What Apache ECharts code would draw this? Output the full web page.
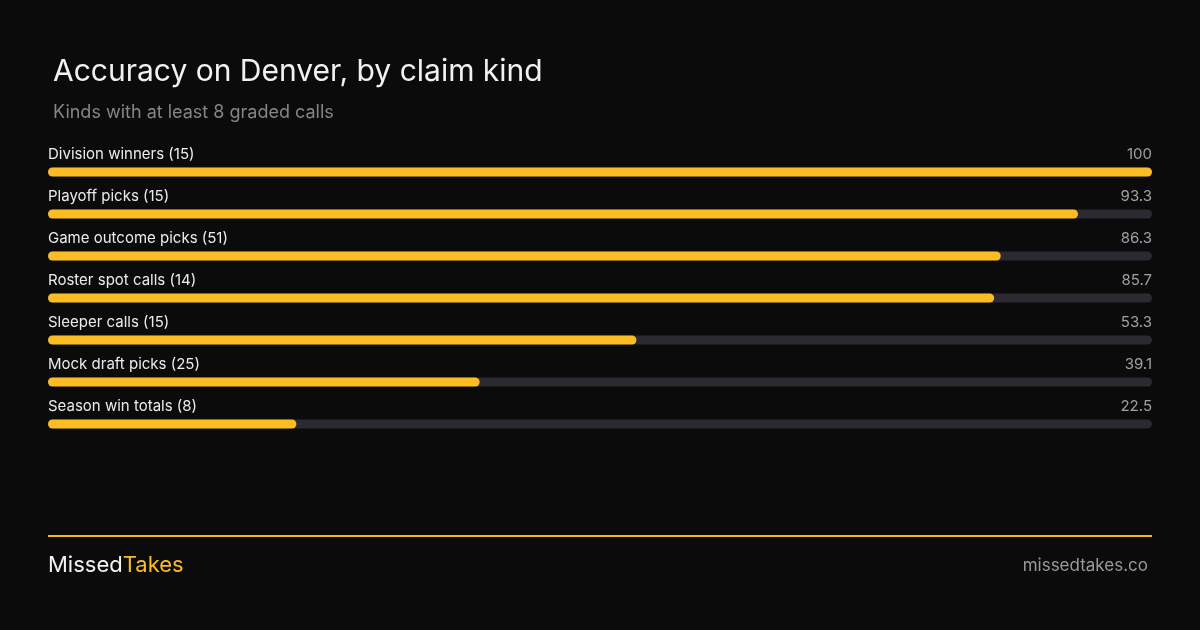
<!DOCTYPE html>
<html lang="en">
<head>
    <meta charset="UTF-8">
    <title>Accuracy on Denver</title>
    <script src="https://cdn.jsdelivr.net/npm/echarts@6/dist/echarts.min.js"></script>
    <style>
        html, body { margin: 0; padding: 0; background: #0b0b0b; }
        #main { width: 1200px; height: 630px; }
    </style>
</head>
<body>
<div id="main"></div>
<script type="text/javascript">
    var kinds = ['Division winners (15)', 'Playoff picks (15)', 'Game outcome picks (51)', 'Roster spot calls (14)',
                 'Sleeper calls (15)', 'Mock draft picks (25)', 'Season win totals (8)'];
    var accuracy = [100, 93.3, 86.3, 85.7, 53.3, 39.1, 22.5];
    var fullTrack = kinds.map(function () { return 100; });

    var font = 'Inter, "Noto Sans", sans-serif';
    var myChart = echarts.init(document.getElementById('main'));

    var option = {
        backgroundColor: '#0b0b0b',
        animation: false,
        title: [
            { text: 'Accuracy on Denver, by claim kind', left: 48, top: 52,
              textStyle: { color: '#f2f2f2', fontSize: 30, fontWeight: 400, fontFamily: font } },
            { text: 'Kinds with at least 8 graded calls', left: 48, top: 99,
              textStyle: { color: '#85858b', fontSize: 18, fontWeight: 400, fontFamily: font } }
        ],
        grid: { left: 48, right: 48, top: 151, height: 294 },
        xAxis: { type: 'value', min: 0, max: 100, show: false },
        yAxis: { type: 'category', data: kinds, inverse: true, show: false },
        series: [
            {
                type: 'bar', data: fullTrack, barWidth: 9, silent: true,
                itemStyle: { color: '#2c2a30', borderRadius: 5 },
                label: {
                    show: true, position: [1104, -13], align: 'right', verticalAlign: 'middle',
                    color: '#a0a0a6', fontSize: 15, fontFamily: font,
                    formatter: function (p) { return accuracy[p.dataIndex]; }
                }
            },
            {
                type: 'bar', data: accuracy, barWidth: 9, barGap: '-100%',
                itemStyle: { color: '#fbbd23', borderRadius: 5 },
                label: {
                    show: true, position: [0, -13], align: 'left', verticalAlign: 'middle',
                    color: '#ececec', fontSize: 15, fontFamily: font,
                    formatter: function (p) { return p.name; }
                }
            }
        ],
        graphic: [
            { type: 'rect', shape: { x: 48, y: 535, width: 1104, height: 2 }, style: { fill: '#f5b920' } },
            { type: 'text', left: 48, top: 554, style: {
                text: '{a|Missed}{b|Takes}', font: '22px ' + font,
                rich: { a: { fill: '#f2f2f2', fontSize: 22, fontFamily: font },
                        b: { fill: '#fbbd23', fontSize: 22, fontFamily: font } } } },
            { type: 'text', right: 52, top: 557, style: {
                text: 'missedtakes.co', fill: '#9a9aa0', fontSize: 17, fontFamily: font } }
        ]
    };
    myChart.setOption(option);
</script>
</body>
</html>
